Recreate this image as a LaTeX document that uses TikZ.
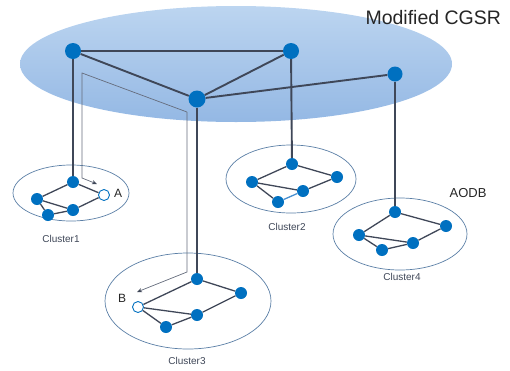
\documentclass[tikz,border=0pt]{standalone}
\usepackage{fontspec}
\setmainfont{Liberation Sans}
\usetikzlibrary{arrows.meta}
\definecolor{nodeblue}{HTML}{0070C0}
\definecolor{edgegray}{HTML}{3F4758}
\definecolor{ringblue}{HTML}{5B7FA6}
\definecolor{pathgray}{HTML}{656C7C}
\definecolor{skytop}{HTML}{BCD5F0}
\definecolor{skybot}{HTML}{94B8E4}
\definecolor{lightlink}{HTML}{4A90D0}
\tikzset{
  bignode/.style={circle,fill=nodeblue,inner sep=0pt,minimum size=16pt},
  smnode/.style={circle,fill=nodeblue,inner sep=0pt,minimum size=12pt},
  opennode/.style={circle,draw=nodeblue,fill=white,line width=0.9pt,inner sep=0pt,minimum size=11pt},
  topedge/.style={draw=edgegray,line width=1.9pt},
  cedge/.style={draw=edgegray,line width=1.3pt},
  ring/.style={draw=ringblue,line width=0.7pt},
  route/.style={draw=pathgray,line width=0.7pt,-{Stealth[length=5pt,width=4pt,color=edgegray]}},
  clabel/.style={font=\fontsize{10}{11}\selectfont,text=edgegray},
  lbl/.style={font=\fontsize{12}{13}\selectfont,text=black!85}
}
\begin{document}
\begin{tikzpicture}[x=1pt,y=-1pt]
\useasboundingbox (0,0) rectangle (510,370);
% backbone ellipse
\shade[top color=skytop, bottom color=skybot] (236,64) ellipse [x radius=216, y radius=58];
\node[anchor=west,font=\fontsize{19.5}{20}\selectfont,text=black!85] (title) at (362,18) {Modified CGSR};
% cluster rings
\draw[ring] (71,193) ellipse [x radius=58, y radius=28];
\draw[ring] (291,179) ellipse [x radius=65, y radius=34];
\draw[ring] (188,301) ellipse [x radius=83, y radius=48];
\draw[ring] (400,234) ellipse [x radius=67, y radius=36];
% top nodes
\node[bignode] (t1) at (73,51) {};
\node[bignode] (t2) at (291,51) {};
\node[bignode,minimum size=17pt] (t3) at (197,99) {};
\node[bignode,minimum size=15pt] (t4) at (395,74) {};
% cluster1
\node[smnode] (a1) at (73,182) {};
\node[smnode] (a2) at (37,199) {};
\node[smnode] (a3) at (48,215) {};
\node[smnode] (a4) at (73,210) {};
\node[opennode] (A) at (104,195) {};
\node[lbl] (Alab) at (118,193) {A};
% cluster2
\node[smnode] (b1) at (292,164) {};
\node[smnode] (b2) at (252,182) {};
\node[smnode] (b3) at (337,177) {};
\node[smnode] (b4) at (303,191) {};
\node[smnode] (b5) at (278,202) {};
% cluster3
\node[smnode] (c1) at (197,279) {};
\node[smnode] (c2) at (241,293) {};
\node[smnode] (c3) at (197,315) {};
\node[smnode] (c4) at (166,327) {};
\node[opennode] (B) at (138,307) {};
\node[lbl] (Blab) at (122,298) {B};
% cluster4
\node[smnode] (d1) at (395,212) {};
\node[smnode] (d2) at (359,235) {};
\node[smnode] (d3) at (446,226) {};
\node[smnode] (d4) at (413,243) {};
\node[smnode] (d5) at (382,250) {};
% labels
\node[clabel] (l1) at (61,239) {Cluster1};
\node[clabel] (l2) at (287,227) {Cluster2};
\node[clabel] (l3) at (187,361) {Cluster3};
\node[clabel] (l4) at (402,277) {Cluster4};
\node[font=\fontsize{13}{14}\selectfont,text=black!85] (aodb) at (468,193) {AODB};
% route path A <-> B
\coordinate (r1) at (82,73);
\coordinate (r2) at (187,112);
\coordinate (r3) at (187,272);
\coordinate (r4) at (82,178);
\coordinate (ra) at (97,184);
\coordinate (rb) at (137,292);
\draw[route] (r2) -- (r3) -- (rb);
\draw[route] (r2) -- (r1) -- (r4) -- (ra);
% backbone edges
\path[topedge] (t1) -- (t2);
\path[topedge] (t1) -- (t3);
\path[topedge] (t2) -- (t3);
\path[topedge] (t3) -- (t4);
\path[topedge] (t1) -- (a1);
\path[topedge] (t2) -- (b1);
\path[topedge] (t3) -- (c1);
\path[topedge] (t4) -- (d1);
% cluster edges
\path[cedge] (a1) -- (a2) (a1) -- (A) (a2) -- (a3) (a2) -- (a4) (a3) -- (a4) (a4) -- (A);
\path[cedge] (b1) -- (b2) (b1) -- (b3) (b2) -- (b4) (b2) -- (b5) (b4) -- (b3);
\path[draw=lightlink,line width=1.3pt] (b5) -- (b4);
\path[cedge] (c1) -- (B) (c1) -- (c2) (B) -- (c3) (B) -- (c4) (c4) -- (c3) (c3) -- (c2);
\path[cedge] (d1) -- (d2) (d1) -- (d3) (d2) -- (d4) (d2) -- (d5) (d5) -- (d4) (d4) -- (d3);
\end{tikzpicture}
\end{document}
